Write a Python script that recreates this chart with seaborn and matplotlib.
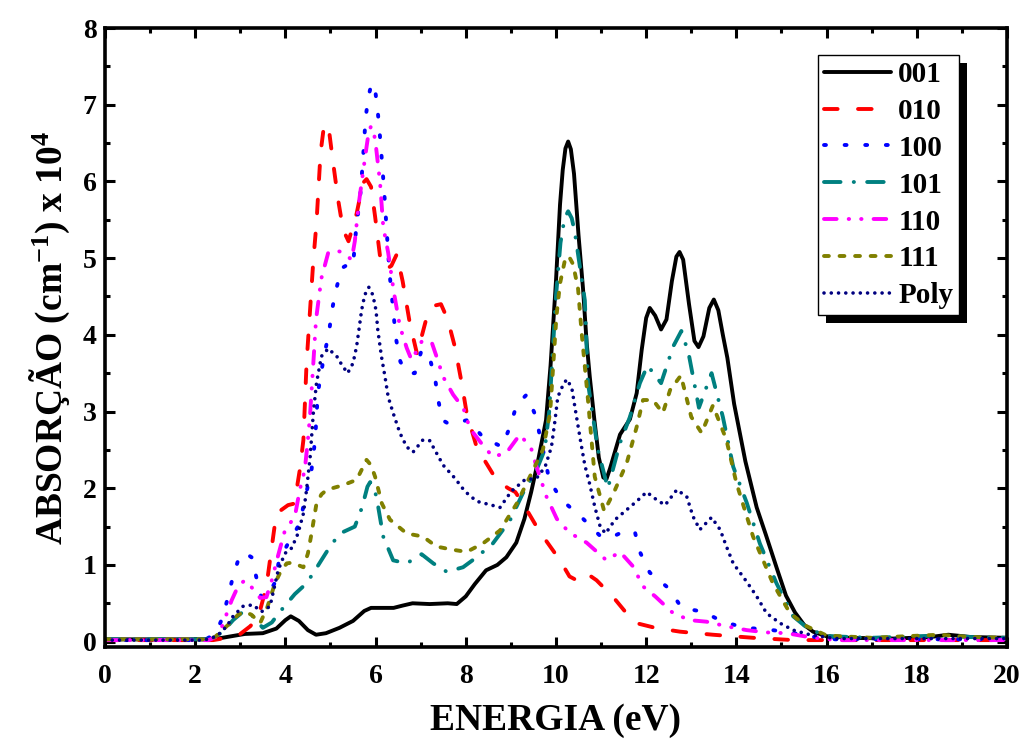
import numpy as np
import pandas as pd
import matplotlib
matplotlib.use("Agg")
import matplotlib.pyplot as plt
from matplotlib.patches import Rectangle
import seaborn as sns

# ── Data (energy eV, absorption x 1e4 cm^-1) ───────────────────────────────────
s001 = [(0, 0.03), (2.2, 0.03), (2.5, 0.04), (2.8, 0.07), (3.1, 0.10), (3.5, 0.11),
        (3.8, 0.17), (4.0, 0.28), (4.12, 0.33), (4.3, 0.27), (4.5, 0.15), (4.68, 0.09),
        (4.9, 0.11), (5.2, 0.18), (5.5, 0.27), (5.75, 0.40), (5.9, 0.44), (6.1, 0.44),
        (6.4, 0.44), (6.6, 0.47), (6.82, 0.50), (7.2, 0.49), (7.6, 0.50), (7.8, 0.49),
        (8.0, 0.59), (8.2, 0.75), (8.45, 0.93), (8.7, 1.00), (8.9, 1.10), (9.12, 1.29),
        (9.3, 1.60), (9.45, 1.95), (9.6, 2.35), (9.78, 2.89), (9.88, 3.60), (10.0, 4.70),
        (10.09, 5.70), (10.15, 6.15), (10.21, 6.43), (10.27, 6.52), (10.33, 6.42),
        (10.4, 6.10), (10.5, 5.30), (10.6, 4.60), (10.68, 3.90), (10.75, 3.45),
        (10.85, 2.90), (10.95, 2.40), (11.05, 2.14), (11.12, 2.12), (11.2, 2.26),
        (11.42, 2.70), (11.64, 2.90), (11.79, 3.24), (11.9, 3.80), (12.0, 4.22),
        (12.08, 4.35), (12.2, 4.25), (12.33, 4.07), (12.45, 4.20), (12.57, 4.70),
        (12.67, 5.02), (12.74, 5.08), (12.82, 4.98), (12.95, 4.40), (13.07, 3.92),
        (13.16, 3.84), (13.27, 3.98), (13.4, 4.35), (13.5, 4.46), (13.6, 4.32),
        (13.7, 4.00), (13.8, 3.70), (13.95, 3.10), (14.2, 2.35), (14.45, 1.75),
        (14.65, 1.40), (14.9, 0.95), (15.1, 0.60), (15.3, 0.38), (15.5, 0.22),
        (15.7, 0.13), (16.0, 0.07), (16.5, 0.05), (17.5, 0.04), (18.3, 0.06),
        (18.7, 0.09), (19.2, 0.06), (20, 0.05)]

s010 = [(0, 0.02), (2.4, 0.02), (2.7, 0.05), (3.0, 0.10), (3.22, 0.20), (3.4, 0.32),
        (3.58, 0.72), (3.7, 1.24), (3.8, 1.67), (4.06, 1.78), (4.2, 1.80), (4.32, 2.24),
        (4.4, 2.63), (4.47, 3.63), (4.62, 4.97), (4.69, 5.46), (4.78, 6.37), (4.84, 6.65),
        (4.9, 6.75), (4.96, 6.70), (5.06, 6.24), (5.17, 5.76), (5.28, 5.37), (5.4, 5.22),
        (5.58, 5.58), (5.72, 5.98), (5.8, 6.03), (5.9, 5.93), (5.99, 5.54), (6.1, 5.02),
        (6.22, 4.85), (6.35, 4.90), (6.47, 5.05), (6.6, 4.70), (6.76, 4.15), (6.92, 3.75),
        (7.13, 4.22), (7.3, 4.38), (7.45, 4.40), (7.6, 4.20), (7.76, 3.84), (7.91, 3.37),
        (8.02, 2.98), (8.28, 2.46), (8.4, 2.38), (8.69, 2.10), (8.94, 2.00), (9.1, 1.95),
        (9.31, 1.76), (9.57, 1.50), (9.8, 1.30), (10.09, 1.06), (10.3, 0.85),
        (10.46, 0.80), (10.68, 0.89), (10.9, 0.80), (11.27, 0.58), (11.55, 0.38),
        (11.79, 0.24), (12.2, 0.18), (12.75, 0.13), (13.48, 0.09), (14.37, 0.05),
        (15.26, 0.02), (16, 0.02), (20, 0.02)]

s100 = [(0, 0.02), (2.2, 0.02), (2.45, 0.10), (2.62, 0.33), (2.73, 0.59), (2.84, 0.85),
        (2.99, 1.13), (3.12, 1.15), (3.25, 1.10), (3.36, 0.83), (3.47, 0.57), (3.6, 0.60),
        (3.77, 0.77), (3.86, 1.06), (4.06, 1.28), (4.2, 1.42), (4.32, 1.54), (4.43, 1.85),
        (4.58, 2.24), (4.66, 2.63), (4.72, 3.24), (4.85, 3.70), (4.97, 4.04), (5.03, 4.31),
        (5.12, 4.58), (5.25, 4.87), (5.4, 4.92), (5.5, 4.90), (5.58, 5.46), (5.65, 5.73),
        (5.72, 6.28), (5.78, 6.83), (5.84, 7.10), (5.9, 7.25), (5.95, 7.28), (6.0, 7.15),
        (6.05, 6.90), (6.08, 6.71), (6.12, 6.43), (6.19, 5.88), (6.25, 5.33), (6.31, 4.80),
        (6.36, 4.51), (6.45, 3.96), (6.55, 3.65), (6.7, 3.50), (6.87, 3.50), (7.02, 3.80),
        (7.2, 3.70), (7.32, 3.43), (7.39, 3.15), (7.48, 2.89), (7.62, 2.84), (7.76, 2.85),
        (8.05, 2.89), (8.39, 2.66), (8.8, 2.54), (8.98, 2.80), (9.13, 3.09), (9.35, 3.22),
        (9.56, 2.93), (9.65, 2.66), (9.76, 2.37), (9.85, 2.11), (10.12, 1.85),
        (10.57, 1.62), (11.01, 1.36), (11.3, 1.38), (11.55, 1.45), (11.75, 1.43),
        (11.86, 1.17), (12.08, 0.90), (12.49, 0.70), (12.79, 0.44), (13.26, 0.39),
        (13.7, 0.26), (14.19, 0.18), (14.67, 0.16), (15.2, 0.12), (15.6, 0.07),
        (16.2, 0.03), (20, 0.03)]

s101 = [(0, 0.03), (2.3, 0.03), (2.6, 0.12), (2.84, 0.28), (3.06, 0.39), (3.22, 0.37),
        (3.35, 0.28), (3.5, 0.18), (3.7, 0.25), (3.88, 0.39), (4.21, 0.62), (4.47, 0.76),
        (4.69, 0.96), (4.99, 1.24), (5.21, 1.41), (5.54, 1.50), (5.7, 1.75), (5.82, 2.02),
        (5.88, 2.08), (5.95, 2.02), (6.02, 1.89), (6.17, 1.37), (6.39, 1.06), (6.69, 1.02),
        (7.02, 1.14), (7.28, 1.02), (7.58, 0.91), (7.94, 0.97), (8.24, 1.10), (8.6, 1.28),
        (8.98, 1.58), (9.27, 1.94), (9.57, 2.24), (9.75, 2.50), (9.85, 3.00), (9.93, 3.80),
        (10.0, 4.50), (10.1, 5.20), (10.19, 5.52), (10.27, 5.61), (10.35, 5.52),
        (10.42, 5.33), (10.53, 4.89), (10.64, 4.45), (10.71, 3.37), (10.93, 2.50),
        (11.15, 2.00), (11.42, 2.59), (11.64, 2.93), (11.86, 3.37), (12.03, 3.60),
        (12.33, 3.37), (12.6, 3.85), (12.78, 4.05), (12.94, 3.76), (13.17, 3.05),
        (13.45, 3.50), (13.7, 2.93), (13.93, 2.28), (14.23, 1.81), (14.52, 1.28),
        (14.89, 0.76), (15.26, 0.33), (15.63, 0.15), (16.1, 0.07), (17.0, 0.05),
        (18.5, 0.08), (19.2, 0.06), (20, 0.05)]

s110 = [(0, 0.02), (2.3, 0.02), (2.45, 0.06), (2.59, 0.19), (2.81, 0.54), (2.95, 0.72),
        (3.1, 0.80), (3.25, 0.71), (3.44, 0.57), (3.58, 0.58), (3.7, 0.80), (3.81, 1.06),
        (3.99, 1.45), (4.1, 1.54), (4.21, 1.63), (4.32, 1.98), (4.43, 2.24), (4.5, 2.63),
        (4.55, 2.98), (4.62, 3.63), (4.68, 4.20), (4.8, 4.74), (4.95, 5.07), (5.1, 5.10),
        (5.25, 5.08), (5.47, 4.98), (5.54, 5.22), (5.63, 5.72), (5.72, 6.11), (5.8, 6.45),
        (5.85, 6.65), (5.9, 6.72), (5.96, 6.65), (6.01, 6.45), (6.1, 5.98), (6.17, 5.41),
        (6.28, 5.07), (6.41, 4.54), (6.54, 4.11), (6.69, 3.83), (6.8, 3.67), (7.02, 3.91),
        (7.24, 3.91), (7.35, 3.72), (7.5, 3.45), (7.72, 3.22), (7.95, 3.04), (8.09, 2.78),
        (8.38, 2.56), (8.6, 2.41), (8.9, 2.46), (9.2, 2.70), (9.45, 2.52), (9.57, 2.28),
        (9.79, 1.89), (10.02, 1.60), (10.3, 1.42), (10.68, 1.29), (11.12, 1.06),
        (11.42, 1.17), (11.71, 0.98), (11.93, 0.72), (12.2, 0.59), (12.6, 0.37),
        (12.97, 0.28), (13.34, 0.26), (13.78, 0.20), (14.23, 0.15), (14.67, 0.12),
        (15.12, 0.11), (15.6, 0.06), (16.2, 0.02), (20, 0.02)]

s111 = [(0, 0.03), (2.3, 0.03), (2.44, 0.06), (2.77, 0.24), (2.95, 0.35), (3.1, 0.39),
        (3.25, 0.35), (3.44, 0.24), (3.6, 0.45), (3.77, 0.76), (3.9, 0.92), (4.03, 1.02),
        (4.15, 1.03), (4.4, 0.97), (4.5, 1.15), (4.58, 1.41), (4.69, 1.80), (4.8, 1.92),
        (4.92, 1.98), (5.28, 2.04), (5.58, 2.11), (5.7, 2.25), (5.8, 2.37), (5.9, 2.30),
        (5.99, 2.15), (6.14, 1.80), (6.32, 1.59), (6.69, 1.41), (7.05, 1.37), (7.35, 1.24),
        (7.69, 1.20), (8.02, 1.17), (8.38, 1.28), (8.76, 1.45), (9.13, 1.80), (9.42, 2.15),
        (9.71, 2.50), (9.87, 2.98), (10.01, 4.24), (10.09, 4.67), (10.19, 4.95),
        (10.28, 5.03), (10.38, 4.92), (10.49, 4.60), (10.57, 4.02), (10.71, 3.15),
        (10.86, 2.15), (11.07, 1.70), (11.31, 1.98), (11.57, 2.33), (11.79, 2.80),
        (11.93, 3.15), (12.15, 3.15), (12.37, 2.98), (12.53, 3.28), (12.77, 3.47),
        (13.0, 2.93), (13.23, 2.72), (13.48, 3.08), (13.78, 2.63), (14.0, 2.07),
        (14.37, 1.37), (14.81, 0.76), (15.19, 0.37), (15.56, 0.20), (16.0, 0.08),
        (17.0, 0.05), (18.5, 0.09), (19.2, 0.06), (20, 0.05)]

spoly = [(0, 0.02), (2.2, 0.02), (2.48, 0.07), (2.7, 0.20), (2.84, 0.33), (3.06, 0.46),
         (3.28, 0.48), (3.47, 0.39), (3.66, 0.46), (3.84, 0.93), (3.99, 1.15), (4.14, 1.22),
         (4.28, 1.41), (4.4, 1.67), (4.47, 1.98), (4.55, 2.41), (4.62, 2.98), (4.69, 3.37),
         (4.8, 3.72), (4.95, 3.82), (5.14, 3.72), (5.25, 3.61), (5.38, 3.50), (5.5, 3.63),
         (5.58, 3.85), (5.63, 4.06), (5.69, 4.32), (5.76, 4.52), (5.85, 4.62), (5.94, 4.52),
         (6.01, 4.32), (6.05, 4.06), (6.13, 3.72), (6.21, 3.45), (6.28, 3.19), (6.39, 2.98),
         (6.54, 2.72), (6.69, 2.54), (6.83, 2.47), (7.05, 2.63), (7.2, 2.62), (7.35, 2.46),
         (7.5, 2.30), (7.76, 2.13), (7.98, 1.96), (8.24, 1.83), (8.57, 1.78), (8.76, 1.75),
         (9.01, 1.96), (9.31, 2.11), (9.57, 2.13), (9.76, 2.28), (9.9, 2.54), (9.98, 2.89),
         (10.04, 3.19), (10.16, 3.35), (10.24, 3.42), (10.35, 3.31), (10.45, 2.95),
         (10.55, 2.60), (10.64, 2.30), (10.75, 2.05), (10.86, 1.76), (10.98, 1.50),
         (11.1, 1.41), (11.31, 1.59), (11.57, 1.72), (11.79, 1.83), (12.01, 1.95),
         (12.23, 1.85), (12.42, 1.78), (12.68, 1.98), (12.9, 1.89), (13.04, 1.63),
         (13.19, 1.46), (13.45, 1.62), (13.64, 1.46), (13.78, 1.24), (13.93, 1.02),
         (14.23, 0.78), (14.45, 0.59), (14.67, 0.37), (14.97, 0.24), (15.26, 0.15),
         (15.63, 0.09), (16.2, 0.04), (20, 0.04)]

labels = ["001", "010", "100", "101", "110", "111", "Poly"]
series = [s001, s010, s100, s101, s110, s111, spoly]
colors = ["#000000", "#FF0000", "#0000FF", "#008080", "#FF00FF", "#808000", "#000080"]
styles = ["-", (0, (3.5, 5.25)), (0, (0.5, 4.8)), (0, (4.25, 3.4, 0.05, 3.4)),
          (0, (3.25, 3.1, 0.1, 3.1, 0.1, 3.1)), (0, (1.25, 2.75)), (0, (0.01, 2.0))]
widths = [2.8, 2.8, 2.8, 2.8, 2.8, 2.8, 2.6]

# ── Style ──────────────────────────────────────────────────────────────────────
sns.set_theme(style="ticks")
plt.rcParams["font.family"] = ["Liberation Serif", "DejaVu Serif"]
plt.rcParams["font.weight"] = "bold"
plt.rcParams["text.color"] = "black"
plt.rcParams["axes.labelcolor"] = "black"
plt.rcParams["mathtext.fontset"] = "custom"
plt.rcParams["mathtext.rm"] = "Liberation Serif:bold"
plt.rcParams["mathtext.bf"] = "Liberation Serif:bold"
plt.rcParams["mathtext.default"] = "bf"

fig = plt.figure(figsize=(10.29, 7.43), dpi=100)
ax = fig.add_axes([0.1020, 0.1292, 0.8766, 0.8331])

for lbl, pts, col, ls, lw in zip(labels, series, colors, styles, widths):
    df = pd.DataFrame(pts, columns=["energia", "abs"])
    sns.lineplot(data=df, x="energia", y="abs", ax=ax, color=col, linestyle=ls,
                 linewidth=lw, label=lbl, dash_capstyle="round",
                 solid_capstyle="round", solid_joinstyle="round",
                 estimator=None, sort=False)

ax.set_xlim(0, 20)
ax.set_ylim(-0.07, 8)
ax.set_xticks(np.arange(0, 21, 2))
ax.set_xticks(np.arange(1, 20, 2), minor=True)
ax.set_yticks(np.arange(0, 9, 1))
ax.set_yticks(np.arange(0.5, 8, 1), minor=True)
ax.tick_params(which="both", direction="in", top=True, right=True, width=2.2,
               labelsize=20, colors="black")
ax.tick_params(which="major", length=7)
ax.tick_params(axis="x", which="major", pad=12)
ax.tick_params(axis="y", which="major", pad=6)
ax.tick_params(which="minor", length=3.8)
for sp in ax.spines.values():
    sp.set_linewidth(2.6)
    sp.set_color("black")

ax.set_xlabel("ENERGIA (eV)", fontsize=27, fontweight="bold", color="black",
              labelpad=10)
ax.set_ylabel("ABSORÇÃO (cm$^{-1}$) x 10$^{4}$", fontsize=27, fontweight="bold",
              color="black", labelpad=8)

leg = ax.legend(loc="upper left", bbox_to_anchor=(818 / 1029, 1 - 55 / 743),
                bbox_transform=fig.transFigure, borderaxespad=0,
                frameon=True, fancybox=False, framealpha=1, edgecolor="black",
                handlelength=2.3, handletextpad=0.25, labelspacing=0.34,
                borderpad=0.2, prop={"weight": "bold", "size": 21})
leg.get_frame().set_linewidth(1.0)
leg.set_zorder(6)
for t in leg.get_texts():
    t.set_color("black")

# Origin-style solid black drop shadow behind the legend
fig.canvas.draw()
bb = leg.get_window_extent().transformed(ax.transAxes.inverted())
off_x = 8 / (ax.bbox.width)
off_y = 8 / (ax.bbox.height)
ax.add_patch(Rectangle((bb.x0 + off_x, bb.y0 - off_y), bb.width, bb.height,
                       transform=ax.transAxes, facecolor="black", edgecolor="none",
                       zorder=5.5, clip_on=False))

fig.savefig("out.png", dpi=100)
